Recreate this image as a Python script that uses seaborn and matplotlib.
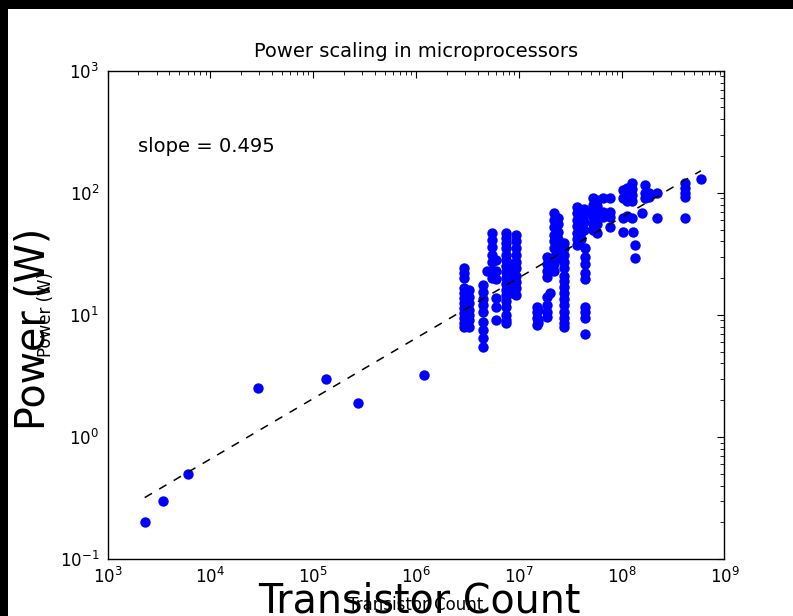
import matplotlib
matplotlib.use("Agg")
import matplotlib.pyplot as plt
from matplotlib.patches import Rectangle
import numpy as np
import pandas as pd
import seaborn as sns

# ---- data (transistor count column, power values) ----
col_transistors = [
    2.3e3, 3.5e3, 6.0e3, 2.9e4, 1.34e5, 2.75e5, 1.2e6,
    2.95e6, 3.25e6, 4.45e6, 4.9e6, 5.5e6, 6.0e6, 7.5e6, 8.4e6, 9.4e6,
    1.5e7, 1.55e7, 1.9e7, 2.0e7, 2.2e7, 2.4e7, 2.78e7,
    3.7e7, 4.0e7, 4.3e7, 4.4e7, 5.3e7, 5.7e7, 6.6e7, 7.7e7,
    1.02e8, 1.12e8, 1.25e8, 1.28e8, 1.35e8, 1.56e8, 1.7e8, 1.85e8, 2.2e8,
    4.1e8, 5.9e8,
]
col_power = [
    [0.2], [0.3], [0.5], [2.5], [3.0], [1.9], [3.2],
    [24, 22, 20, 16.5, 15, 13.7, 12.5, 11.4, 10.4, 9.4, 8.6, 7.9],
    [16, 14, 12.5, 11, 10, 9, 8],
    [17.5, 15.5, 13.5, 12, 10.5, 8.8, 7.5, 6.5, 5.5],
    [23],
    [47, 41, 36, 31, 27, 23, 20],
    [28, 23, 19.5, 13.8, 11.5, 9],
    [47, 43, 39, 35, 31, 28, 25, 22.5, 20, 18, 16, 14.5, 13, 11.5, 10, 9, 8.5],
    [26, 23, 20, 17.5, 15],
    [45, 40, 35, 31, 27, 24, 21, 18.5, 16.5, 14.5],
    [11.5, 10.5, 9.5, 8.2],
    [11, 9, 8.5],
    [29.5, 26, 23, 20.5, 14, 12, 10.5, 9.6],
    [15],
    [68, 60, 52, 45, 40, 35, 30, 26, 23],
    [62, 55, 48, 42, 37, 32, 29],
    [39, 35, 31, 27, 24, 21, 19, 17, 15, 13.5, 12, 10.5, 9.5, 8.5, 7.9],
    [76, 68, 60, 53, 47, 42, 37],
    [72, 63, 55, 48, 42],
    [74, 66, 58, 50],
    [35, 30, 26, 22, 19.5, 11.5, 10.5, 9.5, 7.0],
    [90, 80, 71, 63, 56, 50],
    [88, 78, 70, 62, 55, 47],
    [90, 70, 63],
    [90, 70, 63, 52],
    [105, 90, 62, 48],
    [110, 95, 85, 65],
    [120, 108, 95, 85, 62],
    [48],
    [37.5, 29],
    [68],
    [115, 100, 90],
    [100, 92],
    [100, 62],
    [120, 110, 100, 92, 62],
    [130],
]
fit_slope = 0.495
fit_intercept = -2.161   # log10 intercept of fitted power law

title_text = "Power scaling in microprocessors"
xlabel_text = "Transistor Count"
ylabel_text = "Power (W)"

# ---- build table ----
xs, ys = [], []
for x, group in zip(col_transistors, col_power):
    for y in group:
        xs.append(x)
        ys.append(y)
df = pd.DataFrame({"transistors": xs, "power": ys})

fit_x = np.array([min(xs), max(xs)])
fit_df = pd.DataFrame({"transistors": fit_x,
                       "power": 10 ** fit_intercept * fit_x ** fit_slope})

# ---- style ----
sns.set_style("white")
plt.rcParams["font.family"] = ["DejaVu Sans"]
plt.rcParams["axes.unicode_minus"] = False

W, H = 793, 616
fig = plt.figure(figsize=(W / 100, H / 100), dpi=100)
fig.patch.set_facecolor("black")
fig.add_artist(Rectangle((8 / W, 0), 1, 1 - 9 / H, transform=fig.transFigure,
                         facecolor="white", edgecolor="none", zorder=-5))

ax_l, ax_r, ax_t, ax_b = 107.5, 724.5, 70.7, 559.0
ax = fig.add_axes([ax_l / W, 1 - ax_b / H, (ax_r - ax_l) / W, (ax_b - ax_t) / H])
ax.set_facecolor("white")

sns.scatterplot(data=df, x="transistors", y="power", ax=ax, color="#0000ff",
                s=56, linewidth=0, zorder=3)
sns.lineplot(data=fit_df, x="transistors", y="power", ax=ax, color="black",
             linestyle=(0, (5.5, 5.5)), linewidth=1.1, zorder=4)

ax.set_xscale("log")
ax.set_yscale("log")
ax.set_xlim(1e3, 1e9)
ax.set_ylim(1e-1, 1e3)

for s in ax.spines.values():
    s.set_color("black")
    s.set_linewidth(1.0)
    s.set_visible(True)

ax.tick_params(which="both", direction="in", top=True, right=True,
               colors="black", labelsize=12)
ax.tick_params(which="major", length=5, width=0.8)
ax.tick_params(which="minor", length=2.6, width=0.6)
ax.tick_params(axis="x", which="major", pad=6)
ax.tick_params(axis="y", which="major", pad=6)

ax.set_title(title_text, fontsize=14, pad=10, color="black")

ax.set_xlabel(xlabel_text, fontsize=12, color="black")
ax.set_ylabel(ylabel_text, fontsize=12, color="black")
ax.xaxis.set_label_coords(0.5, -0.076)
ax.yaxis.set_label_coords(-0.085, 0.5)

ax.text(2000, 200, f"slope = {fit_slope}", fontsize=14, va="bottom",
        ha="left", color="black")

# big overlaid labels
fig.text(419 / W, 3.5 / H, xlabel_text, fontsize=28.5, ha="center",
         va="baseline", color="black")
fig.text(45 / W, 1 - 329 / H, ylabel_text, fontsize=28.5, ha="center",
         va="baseline", rotation=90, rotation_mode="anchor", color="black")

fig.savefig("out.png", dpi=100, facecolor=fig.get_facecolor())
